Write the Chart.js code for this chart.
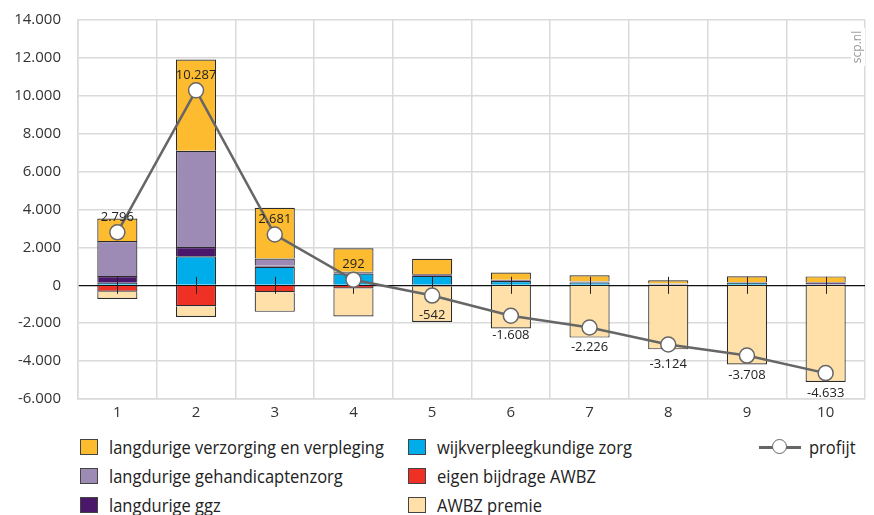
<!DOCTYPE html>
<html lang="nl">
<head>
<meta charset="UTF-8">
<title>Profijt per decielgroep</title>
<script src="https://cdn.jsdelivr.net/npm/chart.js@4.4.0/dist/chart.umd.min.js"></script>
<style>
  body { margin: 0; background: #fff; font-family: "Open Sans", sans-serif; overflow: hidden; }
  #wrap { position: relative; width: 874px; height: 515px; overflow: hidden; }
  #box { position: absolute; left: 0; top: 0; width: 874px; height: 430px; }
  .leg { position: absolute; display: flex; align-items: center; height: 24px; font-size: 18px; line-height: 24px; color: #222; white-space: nowrap; }
  .leg .sw { flex: none; width: 16px; height: 14px; border: 1px solid #444; margin-right: 11px; }
  .leg .tx { display: inline-block; transform: scaleX(0.917); transform-origin: left center; }
  .leg .ln { flex: none; position: relative; width: 42px; height: 16px; margin-right: 8px; }
  .leg .ln:before { content: ""; position: absolute; left: 0; right: 0; top: 7px; height: 2.5px; background: #666; }
  .leg .ln:after { content: ""; position: absolute; left: 13px; top: 0; width: 13px; height: 13px; border: 1.5px solid #666; border-radius: 50%; background: #fff; }
</style>
</head>
<body>
<div id="wrap">
  <div id="box"><canvas id="grafiek"></canvas></div>
  <div id="legenda"></div>
</div>

<script>
  // decielgroepen
  const groepen = ['1', '2', '3', '4', '5', '6', '7', '8', '9', '10'];

  const wijkverpleging = [140, 1530, 980, 620, 500, 230, 150, 40, 130, 40];
  const ggz = [350, 490, 50, 70, 80, 40, 40, 40, 30, 110];
  const gehandicapten = [1850, 5080, 380, 20, 20, 20, 20, 20, 10, 20];
  const verzorgingVerpleging = [1180, 4810, 2680, 1240, 800, 380, 320, 160, 310, 300];
  const eigenBijdrage = [-340, -1100, -370, -170, -60, -30, -30, -30, -30, -30];
  const awbzPremie = [-380, -570, -1030, -1480, -1880, -2250, -2730, -3350, -4150, -5070];
  const profijt = [2796, 10287, 2681, 292, -542, -1608, -2226, -3124, -3708, -4633];

  const yTicks = [-6000, -4000, -2000, 0, 2000, 4000, 6000, 8000, 10000, 12000, 14000];

  function fmt(v) {
    const s = Math.abs(v).toString().replace(/\B(?=(\d{3})+(?!\d))/g, '.');
    return (v < 0 ? '-' : '') + s;
  }

  function staaf(label, data, kleur) {
    return {
      type: 'bar',
      label: label,
      data: data,
      backgroundColor: kleur,
      borderColor: '#2b2b2b',
      borderWidth: 1.2,
      stack: 'inkomen',
      categoryPercentage: 1,
      barPercentage: 0.51
    };
  }

  // tickstreepjes op de nullijn, onder de lijn
  const nulStreepjes = {
    id: 'nulStreepjes',
    beforeDatasetDraw(chart, args) {
      if (args.meta.type !== 'line') return;
      const ctx = chart.ctx;
      const x = chart.scales.x;
      const y0 = chart.scales.y.getPixelForValue(0);
      ctx.save();
      ctx.strokeStyle = '#222';
      ctx.lineWidth = 1;
      groepen.forEach((g, i) => {
        const px = Math.round(x.getPixelForValue(i)) + 0.5;
        ctx.beginPath();
        ctx.moveTo(px, y0 - 8.5);
        ctx.lineTo(px, y0 + 8.5);
        ctx.stroke();
      });
      ctx.restore();
    }
  };

  // waardelabels bij de profijt-punten + bron
  const labels = {
    id: 'labels',
    afterDraw(chart) {
      const ctx = chart.ctx;
      const meta = chart.getDatasetMeta(6);
      ctx.save();
      ctx.font = '13px "Open Sans"';
      ctx.fillStyle = '#222';
      ctx.textAlign = 'center';
      ctx.textBaseline = 'middle';
      meta.data.forEach((pt, i) => {
        const v = profijt[i];
        ctx.fillText(fmt(v), pt.x, v >= 0 ? pt.y - 15 : pt.y + 20);
      });

      // scp.nl rechtsboven
      ctx.translate(858, 47);
      ctx.rotate(-Math.PI / 2);
      ctx.font = '12px "Open Sans"';
      const w = ctx.measureText('scp.nl').width;
      ctx.fillStyle = '#fff';
      ctx.fillRect(-w / 2 - 3, -7, w + 6, 14);
      ctx.fillStyle = '#9a9a9a';
      ctx.fillText('scp.nl', 0, 0);
      ctx.restore();
    }
  };

  const grafiek = new Chart(document.getElementById('grafiek'), {
    data: {
      labels: groepen,
      datasets: [
        staaf('wijkverpleegkundige zorg', wijkverpleging, '#00adeb'),
        staaf('langdurige ggz', ggz, '#4a176b'),
        staaf('langdurige gehandicaptenzorg', gehandicapten, '#9e8bb5'),
        staaf('langdurige verzorging en verpleging', verzorgingVerpleging, '#fdbb2f'),
        staaf('eigen bijdrage AWBZ', eigenBijdrage, '#ee3124'),
        staaf('AWBZ premie', awbzPremie, '#ffe0a9'),
        {
          type: 'line',
          label: 'profijt',
          data: profijt,
          stack: 'profijt',
          order: -1,
          borderColor: '#666',
          borderWidth: 2.5,
          pointRadius: 7.5,
          pointBorderWidth: 1.5,
          pointBackgroundColor: '#fff',
          pointBorderColor: '#666',
          tension: 0
        }
      ]
    },
    options: {
      responsive: true,
      maintainAspectRatio: false,
      animation: false,
      layout: { padding: { left: 0, right: 3, top: 20, bottom: 5 } },
      plugins: {
        legend: { display: false },
        tooltip: { enabled: false }
      },
      scales: {
        x: {
          stacked: true,
          offset: true,
          grid: { offset: true, color: '#dadada', lineWidth: 1.5, drawTicks: false },
          border: { color: '#dadada', width: 1.5 },
          ticks: { padding: 5, color: '#333', font: { family: 'Open Sans', size: 15 } },
          afterFit(scale) { scale.height = 26; }
        },
        y: {
          stacked: true,
          min: -6000,
          max: 14000,
          afterBuildTicks(scale) { scale.ticks = yTicks.map(v => ({ value: v })); },
          grid: {
            drawTicks: true,
            tickLength: 17,
            tickColor: 'rgba(0,0,0,0)',
            color: c => (c.tick && c.tick.value === 0 ? '#111' : '#dadada'),
            lineWidth: c => (c.tick && c.tick.value === 0 ? 1.2 : 1.5)
          },
          border: { color: '#dadada', width: 1.5 },
          ticks: {
            padding: 0,
            color: '#333',
            font: { family: 'Open Sans', size: 15 },
            callback: v => fmt(v)
          },
          afterFit(scale) { scale.width = 78; }
        }
      }
    },
    plugins: [nulStreepjes, labels]
  });

  // legenda in drie kolommen, uit de datasets van de grafiek
  const legenda = document.getElementById('legenda');
  const indeling = [
    { ds: 3, x: 80, y: 447 }, { ds: 2, x: 80, y: 476 }, { ds: 1, x: 80, y: 505 },
    { ds: 0, x: 408, y: 447 }, { ds: 4, x: 408, y: 476 }, { ds: 5, x: 408, y: 505 },
    { ds: 6, x: 759, y: 447 }
  ];
  indeling.forEach(item => {
    const ds = grafiek.data.datasets[item.ds];
    const el = document.createElement('div');
    el.className = 'leg';
    el.style.left = item.x + 'px';
    el.style.top = (item.y - 12) + 'px';
    const sym = document.createElement('span');
    sym.className = ds.type === 'line' ? 'ln' : 'sw';
    if (ds.type !== 'line') sym.style.background = ds.backgroundColor;
    const tx = document.createElement('span');
    tx.className = 'tx';
    tx.textContent = ds.label;
    el.appendChild(sym);
    el.appendChild(tx);
    legenda.appendChild(el);
  });
</script>
</body>
</html>
